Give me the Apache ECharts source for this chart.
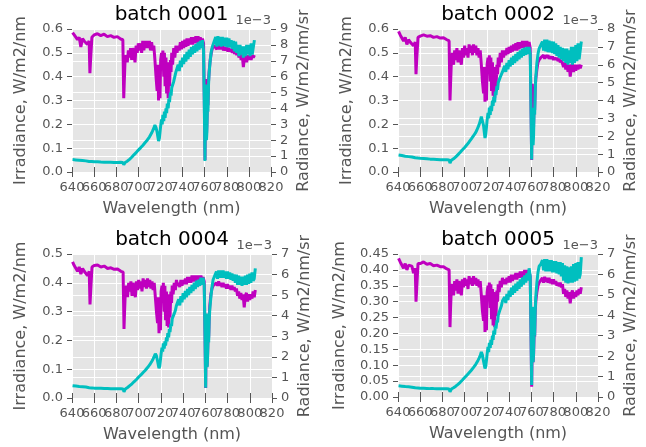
<!DOCTYPE html>
<html>
<head>
<meta charset="utf-8">
<script src="https://cdn.jsdelivr.net/npm/echarts@6/dist/echarts.min.js"></script>
<style>html,body{margin:0;padding:0;background:#fff}#c{width:646px;height:447px}</style>
</head>
<body>
<div id="c"></div>
<script>
// Wavelength grid (nm), shared by all panels
const wavelength = [
640.5,642,643.5,645,646.5,648,649.5,651,652.5,654,655.5,656.2,656.8,658,
660,663,666,669,672,675,678,681,684,686,686.8,687.3,688,
689,690,691,692,693,694,695,696,697,698,699,700,701,702,703,704,705,706,707,708,709,710,711,712,713,714,715,716,
717,717.7,718.3,719,719.6,720.2,721,721.6,722.2,723,723.6,724.2,725,725.6,726.2,727,727.6,728.2,729,729.6,730.2,731,732,733,734,735,
736,737,738,739,740,741,742,743,744,745,746,747,748,749,750,751,752,753,754,755,756,757,758,759,
759.7,760.3,760.8,761.2,761.6,762,762.5,763,763.5,764,765,766,767,768.5,
770,771,772,773,774,775,776,777,778,779,780,781,782,783,784,785,786,787,788,
789,790,791,792,793,794,795,796,797,798,799,800,801,802,803,804,805
];

// batch 0001
const irr0001 = [
0.585,0.575,0.58,0.555,0.565,0.525,0.56,0.55,0.555,0.535,0.55,0.415,0.47,0.565,
0.575,0.58,0.572,0.578,0.568,0.572,0.565,0.568,0.558,0.555,0.31,0.38,0.47,
0.49,0.46,0.51,0.48,0.52,0.47,0.52,0.50,0.46,0.53,0.50,0.54,0.51,0.54,0.50,0.55,0.51,0.55,0.52,0.55,0.52,0.55,0.51,0.545,0.51,0.53,0.47,0.40,
0.34,0.45,0.30,0.42,0.31,0.47,0.50,0.44,0.51,0.40,0.50,0.36,0.48,0.33,0.46,0.31,0.44,0.36,0.47,0.42,0.50,0.45,0.52,0.48,0.53,0.50,
0.53,0.51,0.545,0.515,0.55,0.52,0.555,0.525,0.56,0.53,0.56,0.535,0.565,0.535,0.565,0.54,0.57,0.54,0.57,0.545,0.565,0.545,0.56,0.54,
0.30,0.05,0.39,0.39,0.15,0.20,0.30,0.28,0.38,0.42,0.47,0.50,0.52,0.53,
0.535,0.515,0.535,0.515,0.53,0.515,0.53,0.51,0.525,0.51,0.525,0.505,0.52,0.505,0.515,0.50,0.515,0.495,0.51,
0.49,0.51,0.48,0.50,0.47,0.49,0.44,0.48,0.50,0.46,0.49,0.47,0.49,0.47,0.49,0.48,0.49
];
const rad0001 = [
0.78,0.74,0.76,0.72,0.74,0.70,0.72,0.68,0.70,0.62,0.66,0.64,0.66,0.66,
0.64,0.65,0.63,0.62,0.61,0.61,0.60,0.60,0.61,0.60,0.45,0.52,0.60,
0.62,0.68,0.74,0.80,0.86,0.93,1.0,1.08,1.15,1.22,1.30,1.38,1.44,1.52,1.60,1.67,1.76,1.84,1.91,2.0,2.1,2.2,2.31,2.45,2.6,2.76,2.95,2.8,
2.5,2.2,1.95,2.1,2.5,2.9,3.3,3.0,3.6,3.2,3.8,3.4,4.0,3.7,4.3,4.0,4.6,4.4,5.0,4.8,5.3,5.2,5.7,5.8,6.3,6.3,
6.75,6.35,7.0,6.6,7.2,6.8,7.4,6.95,7.55,7.1,7.7,7.25,7.85,7.4,7.95,7.5,8.05,7.6,8.15,7.7,8.25,7.8,8.3,7.6,
4.0,0.7,5.5,5.6,2.0,2.5,4.0,3.8,5.5,6.2,7.0,7.6,7.9,8.2,
8.5,7.9,8.55,7.95,8.5,7.9,8.5,7.95,8.45,7.9,8.45,7.85,8.4,7.85,8.3,7.75,8.25,7.6,8.2,
7.5,8.0,7.3,8.0,7.4,7.9,7.2,7.9,7.3,8.0,7.4,8.0,7.3,8.1,7.4,7.5,8.3
];

// batch 0002
const irr0002 = [
0.59,0.575,0.58,0.55,0.565,0.535,0.555,0.545,0.55,0.53,0.545,0.41,0.47,0.565,
0.57,0.575,0.57,0.572,0.565,0.568,0.562,0.563,0.555,0.55,0.30,0.37,0.46,
0.50,0.45,0.51,0.47,0.52,0.46,0.51,0.48,0.45,0.52,0.48,0.53,0.49,0.52,0.48,0.535,0.50,0.53,0.49,0.535,0.50,0.53,0.49,0.52,0.48,0.51,0.45,0.38,
0.33,0.44,0.295,0.41,0.30,0.45,0.48,0.42,0.49,0.38,0.48,0.34,0.46,0.32,0.44,0.31,0.43,0.35,0.45,0.41,0.48,0.44,0.50,0.46,0.51,0.48,
0.51,0.49,0.52,0.495,0.525,0.50,0.53,0.505,0.535,0.51,0.54,0.51,0.545,0.515,0.545,0.52,0.55,0.52,0.55,0.525,0.55,0.525,0.545,0.52,
0.28,0.05,0.37,0.37,0.14,0.19,0.28,0.26,0.35,0.39,0.43,0.46,0.47,0.48,
0.48,0.49,0.475,0.49,0.48,0.49,0.475,0.485,0.475,0.485,0.47,0.48,0.47,0.48,0.465,0.475,0.46,0.47,0.455,
0.44,0.46,0.43,0.455,0.42,0.45,0.40,0.44,0.455,0.42,0.45,0.425,0.45,0.43,0.45,0.435,0.45
];
const rad0002 = [
0.95,0.9,0.92,0.86,0.88,0.84,0.86,0.82,0.84,0.76,0.8,0.78,0.8,0.78,
0.77,0.76,0.74,0.72,0.71,0.70,0.69,0.68,0.68,0.67,0.50,0.58,0.66,
0.7,0.74,0.8,0.85,0.9,0.97,1.03,1.1,1.17,1.24,1.3,1.37,1.45,1.52,1.6,1.68,1.76,1.85,1.94,2.03,2.12,2.22,2.35,2.5,2.65,2.85,3.1,3.0,
2.6,2.2,1.9,2.1,2.5,2.9,3.3,3.0,3.6,3.2,3.7,3.4,4.0,3.7,4.2,3.9,4.5,4.3,4.8,4.6,5.0,5.0,5.3,5.4,5.6,5.6,
5.95,5.6,6.1,5.75,6.25,5.9,6.4,6.0,6.5,6.1,6.6,6.2,6.7,6.3,6.8,6.4,6.9,6.5,6.95,6.55,7.0,6.6,7.0,6.6,
3.5,0.7,3.6,3.5,1.5,2.0,3.4,3.2,4.6,5.3,6.1,6.6,6.9,7.1,
7.3,6.8,7.4,6.75,7.4,6.7,7.35,6.7,7.3,6.65,7.3,6.6,7.2,6.5,7.1,6.4,7.0,6.3,6.95,
6.2,6.9,6.1,6.9,6.0,6.8,6.1,7.0,6.0,7.0,6.1,7.1,6.2,7.2,6.3,6.4,7.3
];

// batch 0004
const irr0004 = [
0.473,0.46,0.465,0.44,0.455,0.43,0.45,0.44,0.445,0.425,0.44,0.325,0.37,0.455,
0.46,0.462,0.455,0.458,0.45,0.452,0.447,0.448,0.44,0.437,0.24,0.30,0.37,
0.39,0.35,0.40,0.37,0.405,0.355,0.40,0.375,0.35,0.405,0.375,0.41,0.38,0.405,0.37,0.415,0.385,0.41,0.38,0.415,0.385,0.41,0.38,0.405,0.375,0.40,0.35,0.30,
0.26,0.35,0.225,0.33,0.235,0.37,0.39,0.34,0.40,0.30,0.39,0.27,0.37,0.25,0.36,0.245,0.35,0.28,0.37,0.33,0.39,0.36,0.40,0.375,0.41,0.39,
0.40,0.385,0.41,0.39,0.41,0.395,0.415,0.395,0.42,0.40,0.42,0.40,0.425,0.405,0.425,0.405,0.425,0.41,0.425,0.41,0.425,0.41,0.42,0.405,
0.22,0.035,0.29,0.29,0.11,0.15,0.22,0.21,0.28,0.32,0.36,0.38,0.39,0.395,
0.40,0.39,0.405,0.39,0.40,0.385,0.40,0.385,0.395,0.38,0.395,0.38,0.39,0.375,0.39,0.375,0.385,0.37,0.38,
0.355,0.37,0.345,0.365,0.34,0.36,0.315,0.355,0.365,0.335,0.36,0.34,0.36,0.345,0.37,0.35,0.375
];
const rad0004 = [
0.6,0.57,0.58,0.55,0.56,0.53,0.55,0.52,0.53,0.46,0.5,0.48,0.5,0.49,
0.48,0.48,0.47,0.46,0.46,0.45,0.45,0.45,0.45,0.44,0.30,0.37,0.44,
0.47,0.51,0.55,0.6,0.64,0.69,0.74,0.8,0.85,0.9,0.96,1.02,1.07,1.12,1.18,1.24,1.29,1.35,1.41,1.48,1.55,1.62,1.7,1.8,1.9,2.02,2.15,2.05,
1.8,1.6,1.45,1.55,1.85,2.15,2.45,2.25,2.65,2.4,2.75,2.55,2.95,2.75,3.15,2.95,3.35,3.2,3.6,3.5,3.85,3.8,4.1,4.25,4.5,4.55,
4.8,4.5,4.95,4.65,5.1,4.8,5.2,4.9,5.3,5.0,5.4,5.1,5.5,5.2,5.6,5.3,5.7,5.4,5.75,5.45,5.85,5.5,5.85,5.5,
3.0,0.5,4.1,4.0,1.5,1.9,2.9,2.7,3.8,4.3,4.9,5.4,5.75,5.95,
6.15,5.8,6.2,5.85,6.2,5.85,6.2,5.85,6.15,5.8,6.15,5.8,6.1,5.75,6.05,5.7,6.0,5.6,6.0,
5.5,5.95,5.5,5.9,5.45,5.9,5.5,5.95,5.5,6.0,5.55,6.05,5.6,6.1,5.7,5.8,6.3
];

// batch 0005
const irr0005 = [
0.436,0.425,0.43,0.405,0.42,0.40,0.415,0.41,0.412,0.39,0.405,0.30,0.34,0.42,
0.42,0.425,0.418,0.42,0.413,0.415,0.41,0.41,0.403,0.40,0.22,0.28,0.34,
0.355,0.32,0.365,0.335,0.37,0.325,0.365,0.34,0.32,0.37,0.345,0.375,0.35,0.37,0.34,0.38,0.355,0.375,0.35,0.38,0.355,0.375,0.35,0.37,0.345,0.365,0.32,0.27,
0.24,0.32,0.205,0.30,0.21,0.33,0.35,0.31,0.36,0.28,0.355,0.245,0.34,0.225,0.33,0.22,0.32,0.255,0.335,0.30,0.355,0.33,0.365,0.345,0.375,0.355,
0.37,0.355,0.375,0.36,0.38,0.36,0.385,0.365,0.385,0.37,0.39,0.37,0.39,0.375,0.395,0.375,0.395,0.38,0.40,0.38,0.40,0.38,0.395,0.38,
0.2,0.032,0.17,0.17,0.11,0.13,0.2,0.19,0.27,0.3,0.33,0.35,0.36,0.365,
0.375,0.36,0.378,0.362,0.375,0.36,0.375,0.358,0.37,0.355,0.37,0.355,0.365,0.35,0.36,0.348,0.36,0.345,0.355,
0.325,0.34,0.315,0.335,0.31,0.33,0.295,0.325,0.335,0.31,0.33,0.315,0.335,0.32,0.34,0.325,0.345
];
const rad0005 = [
0.55,0.52,0.53,0.5,0.51,0.48,0.5,0.47,0.48,0.4,0.45,0.43,0.45,0.44,
0.43,0.43,0.42,0.41,0.41,0.40,0.40,0.40,0.40,0.39,0.25,0.32,0.39,
0.42,0.45,0.49,0.53,0.57,0.62,0.67,0.72,0.77,0.83,0.89,0.95,1.01,1.07,1.13,1.19,1.25,1.31,1.38,1.45,1.52,1.6,1.69,1.79,1.9,2.02,2.2,2.05,
1.75,1.55,1.4,1.5,1.8,2.1,2.45,2.2,2.65,2.4,2.8,2.55,3.0,2.8,3.25,3.05,3.5,3.35,3.75,3.65,4.0,3.95,4.3,4.45,4.7,4.75,
4.9,4.6,5.05,4.75,5.2,4.9,5.35,5.0,5.45,5.1,5.55,5.2,5.65,5.3,5.75,5.4,5.85,5.5,5.95,5.6,6.05,5.7,6.3,5.9,
3.2,0.59,4.4,4.3,1.7,2.1,3.2,3.0,4.2,4.9,5.6,6.1,6.4,6.5,
6.7,6.2,6.75,6.15,6.75,6.15,6.7,6.15,6.7,6.1,6.65,6.1,6.65,6.05,6.6,6.0,6.6,5.9,6.55,
5.7,6.45,5.6,6.4,5.56,6.35,5.6,6.4,5.6,6.5,5.65,6.55,5.7,6.6,5.8,6.0,6.85
];

// Axis tick settings
const titles = ['batch 0001','batch 0002','batch 0004','batch 0005'];
const xTickLabels = ['640','660','680','700','720','740','760','780','800','820'];
const irrMax = [0.6, 0.6, 0.5, 0.45];
const irrStep = [0.1, 0.1, 0.1, 0.05];
const irrDecimals = [1, 1, 1, 2];
const radMax = [9, 8, 7, 7];
const xMin = 640, xMax = 820, xStep = 20;

const irrData = [irr0001, irr0002, irr0004, irr0005];
const radData = [rad0001, rad0002, rad0004, rad0005];
[...irrData, ...radData].forEach((a, k) => {
  if (a.length !== wavelength.length) throw new Error('length mismatch in array ' + k + ': ' + a.length + ' vs ' + wavelength.length);
});

const boxes = [
  {left: 72, top: 29, width: 199, height: 143},
  {left: 398, top: 29, width: 200, height: 143},
  {left: 72, top: 254, width: 200, height: 144},
  {left: 398, top: 254, width: 200, height: 143}
];
const FONT = 'DejaVu Sans';
const GRAY = '#555555';
const MAG = '#BF00BF', CYA = '#00BFBF';

const grid = [], xAxis = [], yAxis = [], series = [], graphic = [];
boxes.forEach((b, i) => {
  grid.push({left: b.left, top: b.top, width: b.width, height: b.height, show: true,
    backgroundColor: '#E5E5E5', borderWidth: 0, containLabel: false});
  const tick = {show: true, inside: false, length: 5, lineStyle: {color: GRAY, width: 1}};
  const lab = {color: GRAY, fontSize: 13, fontFamily: FONT, showMinLabel: true, showMaxLabel: true};
  xAxis.push({gridIndex: i, type: 'value', min: xMin, max: xMax, interval: xStep, position: 'bottom',
    axisLine: {show: false}, axisTick: tick, axisLabel: {show: false},
    splitLine: {show: true, lineStyle: {color: '#ffffff', width: 1}}});
  xAxis.push({gridIndex: i, type: 'value', min: xMin, max: xMax, interval: xStep, position: 'top',
    axisLine: {show: false}, axisTick: tick, axisLabel: {show: false}, splitLine: {show: false}});
  const dec = irrDecimals[i];
  yAxis.push({gridIndex: i, type: 'value', min: 0, max: irrMax[i], interval: irrStep[i], position: 'left',
    axisLine: {show: false}, axisTick: tick,
    axisLabel: Object.assign({margin: 9, formatter: v => v.toFixed(dec)}, lab),
    splitLine: {show: true, lineStyle: {color: '#ffffff', width: 1}}});
  yAxis.push({gridIndex: i, type: 'value', min: 0, max: radMax[i], interval: 1, position: 'right',
    axisLine: {show: false}, axisTick: tick,
    axisLabel: Object.assign({margin: 9, formatter: v => String(Math.round(v))}, lab),
    splitLine: {show: true, lineStyle: {color: '#ffffff', width: 1}}});
  series.push({type: 'line', xAxisIndex: 2 * i, yAxisIndex: 2 * i, symbol: 'none', animation: false,
    lineStyle: {color: MAG, width: 3}, itemStyle: {color: MAG},
    data: wavelength.map((w, k) => [w, irrData[i][k]])});
  series.push({type: 'line', xAxisIndex: 2 * i, yAxisIndex: 2 * i + 1, symbol: 'none', animation: false,
    lineStyle: {color: CYA, width: 3}, itemStyle: {color: CYA},
    data: wavelength.map((w, k) => [w, radData[i][k]])});

  const cx = b.left + b.width / 2, cy = b.top + b.height / 2;
  graphic.push({type: 'text', x: cx, y: b.top - 14, style: {text: titles[i], fill: '#000', font: '20px ' + FONT, align: 'center', verticalAlign: 'middle'}});
  graphic.push({type: 'text', x: b.left + b.width, y: b.top - 8, style: {text: '1e\u22123', fill: GRAY, font: '13px ' + FONT, align: 'right', verticalAlign: 'middle'}});
  graphic.push({type: 'text', x: cx, y: b.top + b.height + 37, style: {text: 'Wavelength (nm)', fill: GRAY, font: '16px ' + FONT, align: 'center', verticalAlign: 'middle'}});
  const lx = (i === 3) ? b.left - 58 : b.left - 51;
  graphic.push({type: 'text', x: lx, y: cy, rotation: Math.PI / 2, style: {text: 'Irradiance, W/m2/nm', fill: GRAY, font: '16px ' + FONT, align: 'center', verticalAlign: 'middle'}});
  graphic.push({type: 'text', x: b.left + b.width + 33, y: cy, rotation: Math.PI / 2, style: {text: 'Radiance, W/m2/nm/sr', fill: GRAY, font: '16px ' + FONT, align: 'center', verticalAlign: 'middle'}});
});

const chart = echarts.init(document.getElementById('c'), null, {renderer: 'canvas'});
chart.setOption({animation: false, backgroundColor: '#ffffff', grid, xAxis, yAxis, series, graphic});

// x tick labels (overlapping, as in the original), placed through the axis scale
const tickGraphics = [];
boxes.forEach((b, i) => {
  xTickLabels.forEach(t => {
    const px = chart.convertToPixel({xAxisIndex: 2 * i}, Number(t));
    tickGraphics.push({type: 'text', x: px, y: b.top + b.height + 9,
      style: {text: t, fill: GRAY, font: '13px ' + FONT, align: 'center', verticalAlign: 'top'}});
  });
});
chart.setOption({graphic: graphic.concat(tickGraphics)});
</script>
</body>
</html>
